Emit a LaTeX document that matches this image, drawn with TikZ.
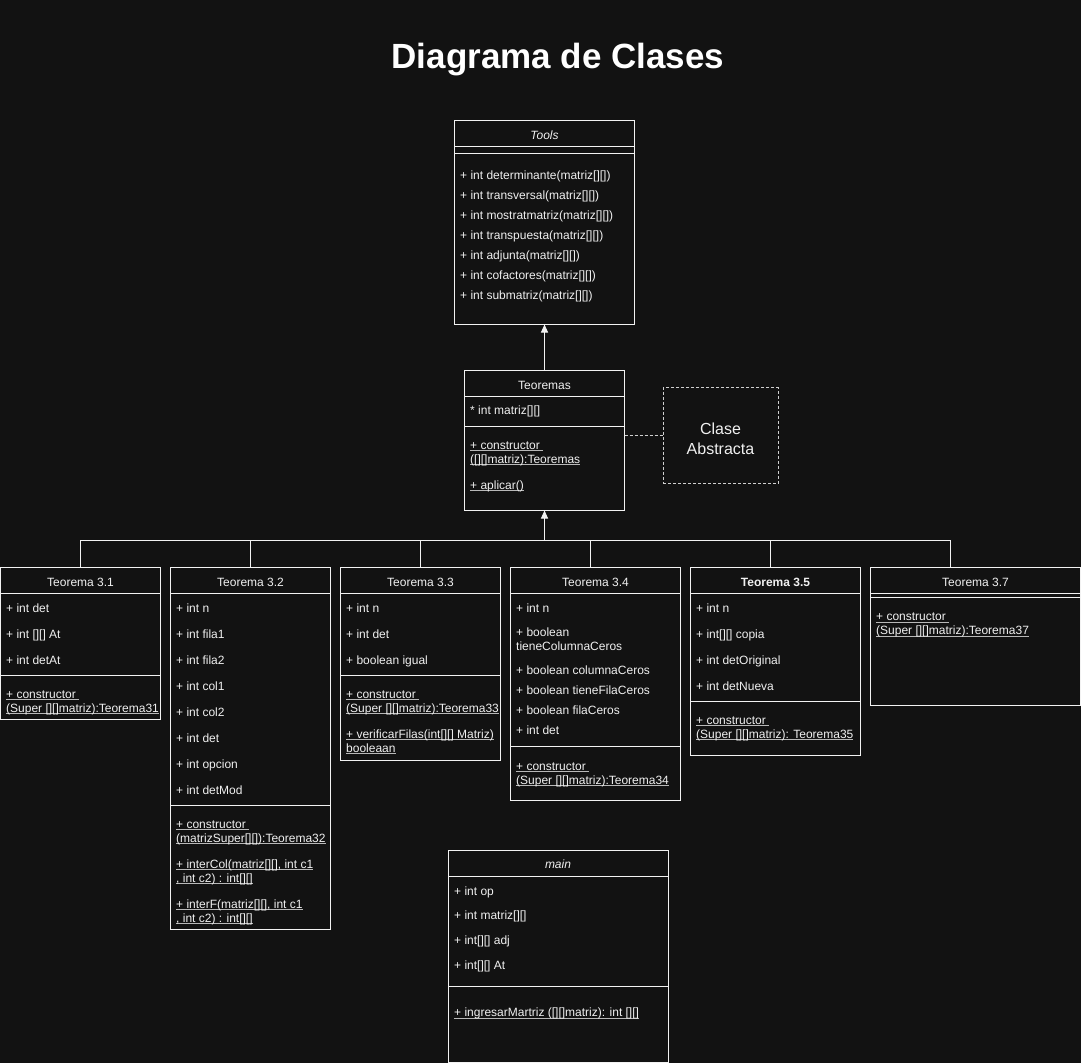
\documentclass[tikz,border=0pt]{standalone}
\usepackage{fontspec}
\setmainfont{Liberation Sans}
\usetikzlibrary{arrows.meta}
\definecolor{bgcol}{HTML}{121212}
\definecolor{linecol}{HTML}{F2F2F2}
\definecolor{txtcol}{HTML}{F0F0F0}
\definecolor{ulcol}{HTML}{B8B8B8}
\definecolor{dashcol}{HTML}{D0D0D0}
\newcommand\myul[1]{\setbox0\hbox{#1}\rlap{\textcolor{ulcol}{\rule[-2.3pt]{\wd0}{0.9pt}}}\box0}
\begin{document}
\begin{tikzpicture}[x=1pt,y=-1pt,
  classbox/.style={draw=linecol, line width=1pt, fill=bgcol, inner sep=0pt, outer sep=0pt, anchor=north west},
  member/.style={anchor=base west, inner sep=0pt, text=txtcol, font=\fontsize{12}{14}\selectfont},
  header/.style={anchor=base, inner sep=0pt, text=txtcol, font=\fontsize{12}{14}\selectfont},
  sepline/.style={draw=linecol, line width=1pt},
  link/.style={draw=linecol, line width=1pt},
  dashline/.style={draw=dashcol, line width=1pt, dash pattern=on 3pt off 2pt},
]
\fill[bgcol] (0,0) rectangle (1081,1063);
\useasboundingbox (0,0) rectangle (1081,1063);

% title
\node[anchor=base, inner sep=0pt, text=white, font=\fontsize{35}{42}\selectfont\bfseries] (title) at (558,68) {Diagrama de Clases};

% ---------- Tools ----------
\node[classbox, minimum width=180pt, minimum height=204pt] (tools) at (454.5,120.5) {};
\draw[sepline] (454.5,146.5) -- (634.5,146.5);
\draw[sepline] (454.5,153.5) -- (634.5,153.5);
\node[header, font=\fontsize{12}{14}\selectfont\itshape] (toolsH) at (544.5,139.5) {Tools};
\node[member] (tm1) at (460,179) {+ int determinante(matriz[][])};
\node[member] (tm2) at (460,199) {+ int transversal(matriz[][])};
\node[member] (tm3) at (460,219) {+ int mostratmatriz(matriz[][])};
\node[member] (tm4) at (460,239) {+ int transpuesta(matriz[][])};
\node[member] (tm5) at (460,259) {+ int adjunta(matriz[][])};
\node[member] (tm6) at (460,279) {+ int cofactores(matriz[][])};
\node[member] (tm7) at (460,299) {+ int submatriz(matriz[][])};

% ---------- Teoremas ----------
\node[classbox, minimum width=160pt, minimum height=140pt] (teoremas) at (464.5,370.5) {};
\draw[sepline] (464.5,396.5) -- (624.5,396.5);
\draw[sepline] (464.5,426.5) -- (624.5,426.5);
\node[header] (teoH) at (544.5,389.5) {Teoremas};
\node[member] (teoA) at (470,414) {* int matriz[][]};
\node[member] (teoM1) at (470,449) {\myul{+ constructor\ }};
\node[member] (teoM1b) at (470,463) {\myul{([][]matriz):Teoremas}};
\node[member] (teoM2) at (470,489) {\myul{+ aplicar()}};

% ---------- Clase Abstracta ----------
\node[draw=dashcol, line width=1pt, dash pattern=on 3pt off 2pt, fill=bgcol, inner sep=0pt, outer sep=0pt, anchor=north west, minimum width=115pt, minimum height=96pt] (abstract) at (663,387.5) {};
\node[anchor=base, inner sep=0pt, text=txtcol, font=\fontsize{16}{19}\selectfont] (absT1) at (720.5,434) {Clase};
\node[anchor=base, inner sep=0pt, text=txtcol, font=\fontsize{16}{19}\selectfont] (absT2) at (720.5,454) {Abstracta};
\draw[dashline] (abstract.west -| teoremas.east) -- (abstract.west);

% ---------- Teorema 3.1 ----------
\node[classbox, minimum width=160pt, minimum height=152pt] (t31) at (0.5,567.5) {};
\draw[sepline] (0.5,593.5) -- (160.5,593.5);
\draw[sepline] (0.5,675.5) -- (160.5,675.5);
\node[header] (t31H) at (80.5,586.5) {Teorema 3.1};
\node[member] (t31a1) at (6,612) {+ int det};
\node[member] (t31a2) at (6,638) {+ int [][] At};
\node[member] (t31a3) at (6,664) {+ int detAt};
\begin{scope}
\clip (0,560) rectangle (160,720);
\node[member] (t31m1) at (6,698) {\myul{+ constructor\ }};
\node[member] (t31m1b) at (6,712) {\myul{(Super [][]matriz):Teorema31}};
\end{scope}

% ---------- Teorema 3.2 ----------
\node[classbox, minimum width=160pt, minimum height=362pt] (t32) at (170.5,567.5) {};
\draw[sepline] (170.5,593.5) -- (330.5,593.5);
\draw[sepline] (170.5,805.5) -- (330.5,805.5);
\node[header] (t32H) at (250.5,586.5) {Teorema 3.2};
\node[member] (t32a1) at (176,612) {+ int n};
\node[member] (t32a2) at (176,638) {+ int fila1};
\node[member] (t32a3) at (176,664) {+ int fila2};
\node[member] (t32a4) at (176,690) {+ int col1};
\node[member] (t32a5) at (176,716) {+ int col2};
\node[member] (t32a6) at (176,742) {+ int det};
\node[member] (t32a7) at (176,768) {+ int opcion};
\node[member] (t32a8) at (176,794) {+ int detMod};
\node[member] (t32m1) at (176,828) {\myul{+ constructor\ }};
\node[member] (t32m1b) at (176,842) {\myul{(matrizSuper[][]):Teorema32}};
\node[member] (t32m2) at (176,868) {\myul{+ interCol(matriz[][], int c1}};
\node[member] (t32m2b) at (176,882) {\myul{, int c2) : int[][]}};
\node[member] (t32m3) at (176,908) {\myul{+ interF(matriz[][], int c1}};
\node[member] (t32m3b) at (176,922) {\myul{, int c2) : int[][]}};

% ---------- Teorema 3.3 ----------
\node[classbox, minimum width=160pt, minimum height=193pt] (t33) at (340.5,567.5) {};
\draw[sepline] (340.5,593.5) -- (500.5,593.5);
\draw[sepline] (340.5,675.5) -- (500.5,675.5);
\node[header] (t33H) at (420.5,586.5) {Teorema 3.3};
\node[member] (t33a1) at (346,612) {+ int n};
\node[member] (t33a2) at (346,638) {+ int det};
\node[member] (t33a3) at (346,664) {+ boolean igual};
\begin{scope}
\clip (340,560) rectangle (499,760);
\node[member] (t33m1) at (346,698) {\myul{+ constructor\ }};
\node[member] (t33m1b) at (346,712) {\myul{(Super [][]matriz):Teorema33}};
\node[member] (t33m2) at (346,738) {\myul{+ verificarFilas(int[][] Matriz)}};
\node[member] (t33m2b) at (346,752) {\myul{booleaan}};
\end{scope}

% ---------- Teorema 3.4 ----------
\node[classbox, minimum width=170pt, minimum height=233pt] (t34) at (510.5,567.5) {};
\draw[sepline] (510.5,593.5) -- (680.5,593.5);
\draw[sepline] (510.5,746.5) -- (680.5,746.5);
\node[header] (t34H) at (595.5,586.5) {Teorema 3.4};
\node[member] (t34a1) at (516,612) {+ int n};
\node[member] (t34a2) at (516,636) {+ boolean};
\node[member] (t34a2b) at (516,650) {tieneColumnaCeros};
\node[member] (t34a3) at (516,674) {+ boolean columnaCeros};
\node[member] (t34a4) at (516,694) {+ boolean tieneFilaCeros};
\node[member] (t34a5) at (516,714) {+ boolean filaCeros};
\node[member] (t34a6) at (516,734) {+ int det};
\node[member] (t34m1) at (516,770) {\myul{+ constructor\ }};
\node[member] (t34m1b) at (516,784) {\myul{(Super [][]matriz):Teorema34}};

% ---------- Teorema 3.5 ----------
\node[classbox, minimum width=170pt, minimum height=188pt] (t35) at (690.5,567.5) {};
\draw[sepline] (690.5,593.5) -- (860.5,593.5);
\draw[sepline] (690.5,701.5) -- (860.5,701.5);
\node[header, font=\fontsize{12}{14}\selectfont\bfseries] (t35H) at (775.5,586.5) {Teorema 3.5};
\node[member] (t35a1) at (696,612) {+ int n};
\node[member] (t35a2) at (696,638) {+ int[][] copia};
\node[member] (t35a3) at (696,664) {+ int detOriginal};
\node[member] (t35a4) at (696,690) {+ int detNueva};
\node[member] (t35m1) at (696,724) {\myul{+ constructor\ }};
\node[member] (t35m1b) at (696,738) {\myul{(Super [][]matriz): Teorema35}};

% ---------- Teorema 3.7 ----------
\node[classbox, minimum width=210pt, minimum height=138pt] (t37) at (870.5,567.5) {};
\draw[sepline] (870.5,593.5) -- (1080.5,593.5);
\draw[sepline] (870.5,597.5) -- (1080.5,597.5);
\node[header] (t37H) at (975.5,586.5) {Teorema 3.7};
\node[member] (t37m1) at (876,620.5) {\myul{+ constructor\ }};
\node[member] (t37m1b) at (876,634.5) {\myul{(Super [][]matriz):Teorema37}};

% ---------- main ----------
\node[classbox, minimum width=220pt, minimum height=212pt] (mainc) at (448,850.5) {};
\draw[sepline] (448,876.5) -- (668,876.5);
\draw[sepline] (448,986.5) -- (668,986.5);
\node[header, font=\fontsize{12}{14}\selectfont\itshape] (mainH) at (558,868.5) {main};
\node[member] (ma1) at (454,895) {+ int op};
\node[member] (ma2) at (454,919.5) {+ int matriz[][]};
\node[member] (ma3) at (454,944.5) {+ int[][] adj};
\node[member] (ma4) at (454,969) {+ int[][] At};
\node[member] (mm1) at (454,1016.5) {\myul{+ ingresarMartriz ([][]matriz): int [][]}};

% ---------- connectors ----------
\draw[link, -{Triangle[width=7pt,length=8pt]}] (teoremas.north) -- (tools.south);
\coordinate (bus) at (544.5,540.5);
\draw[link] (t31.north) |- (bus);
\draw[link] (t32.north) |- (bus);
\draw[link] (t33.north) |- (bus);
\draw[link] ([xshift=-5pt]t34.north) |- (bus);
\draw[link] ([xshift=-5pt]t35.north) |- (bus);
\draw[link] ([xshift=-25pt]t37.north) |- (bus);
\draw[link, -{Triangle[width=7pt,length=8pt]}] (bus) -- (teoremas.south);
\end{tikzpicture}
\end{document}
